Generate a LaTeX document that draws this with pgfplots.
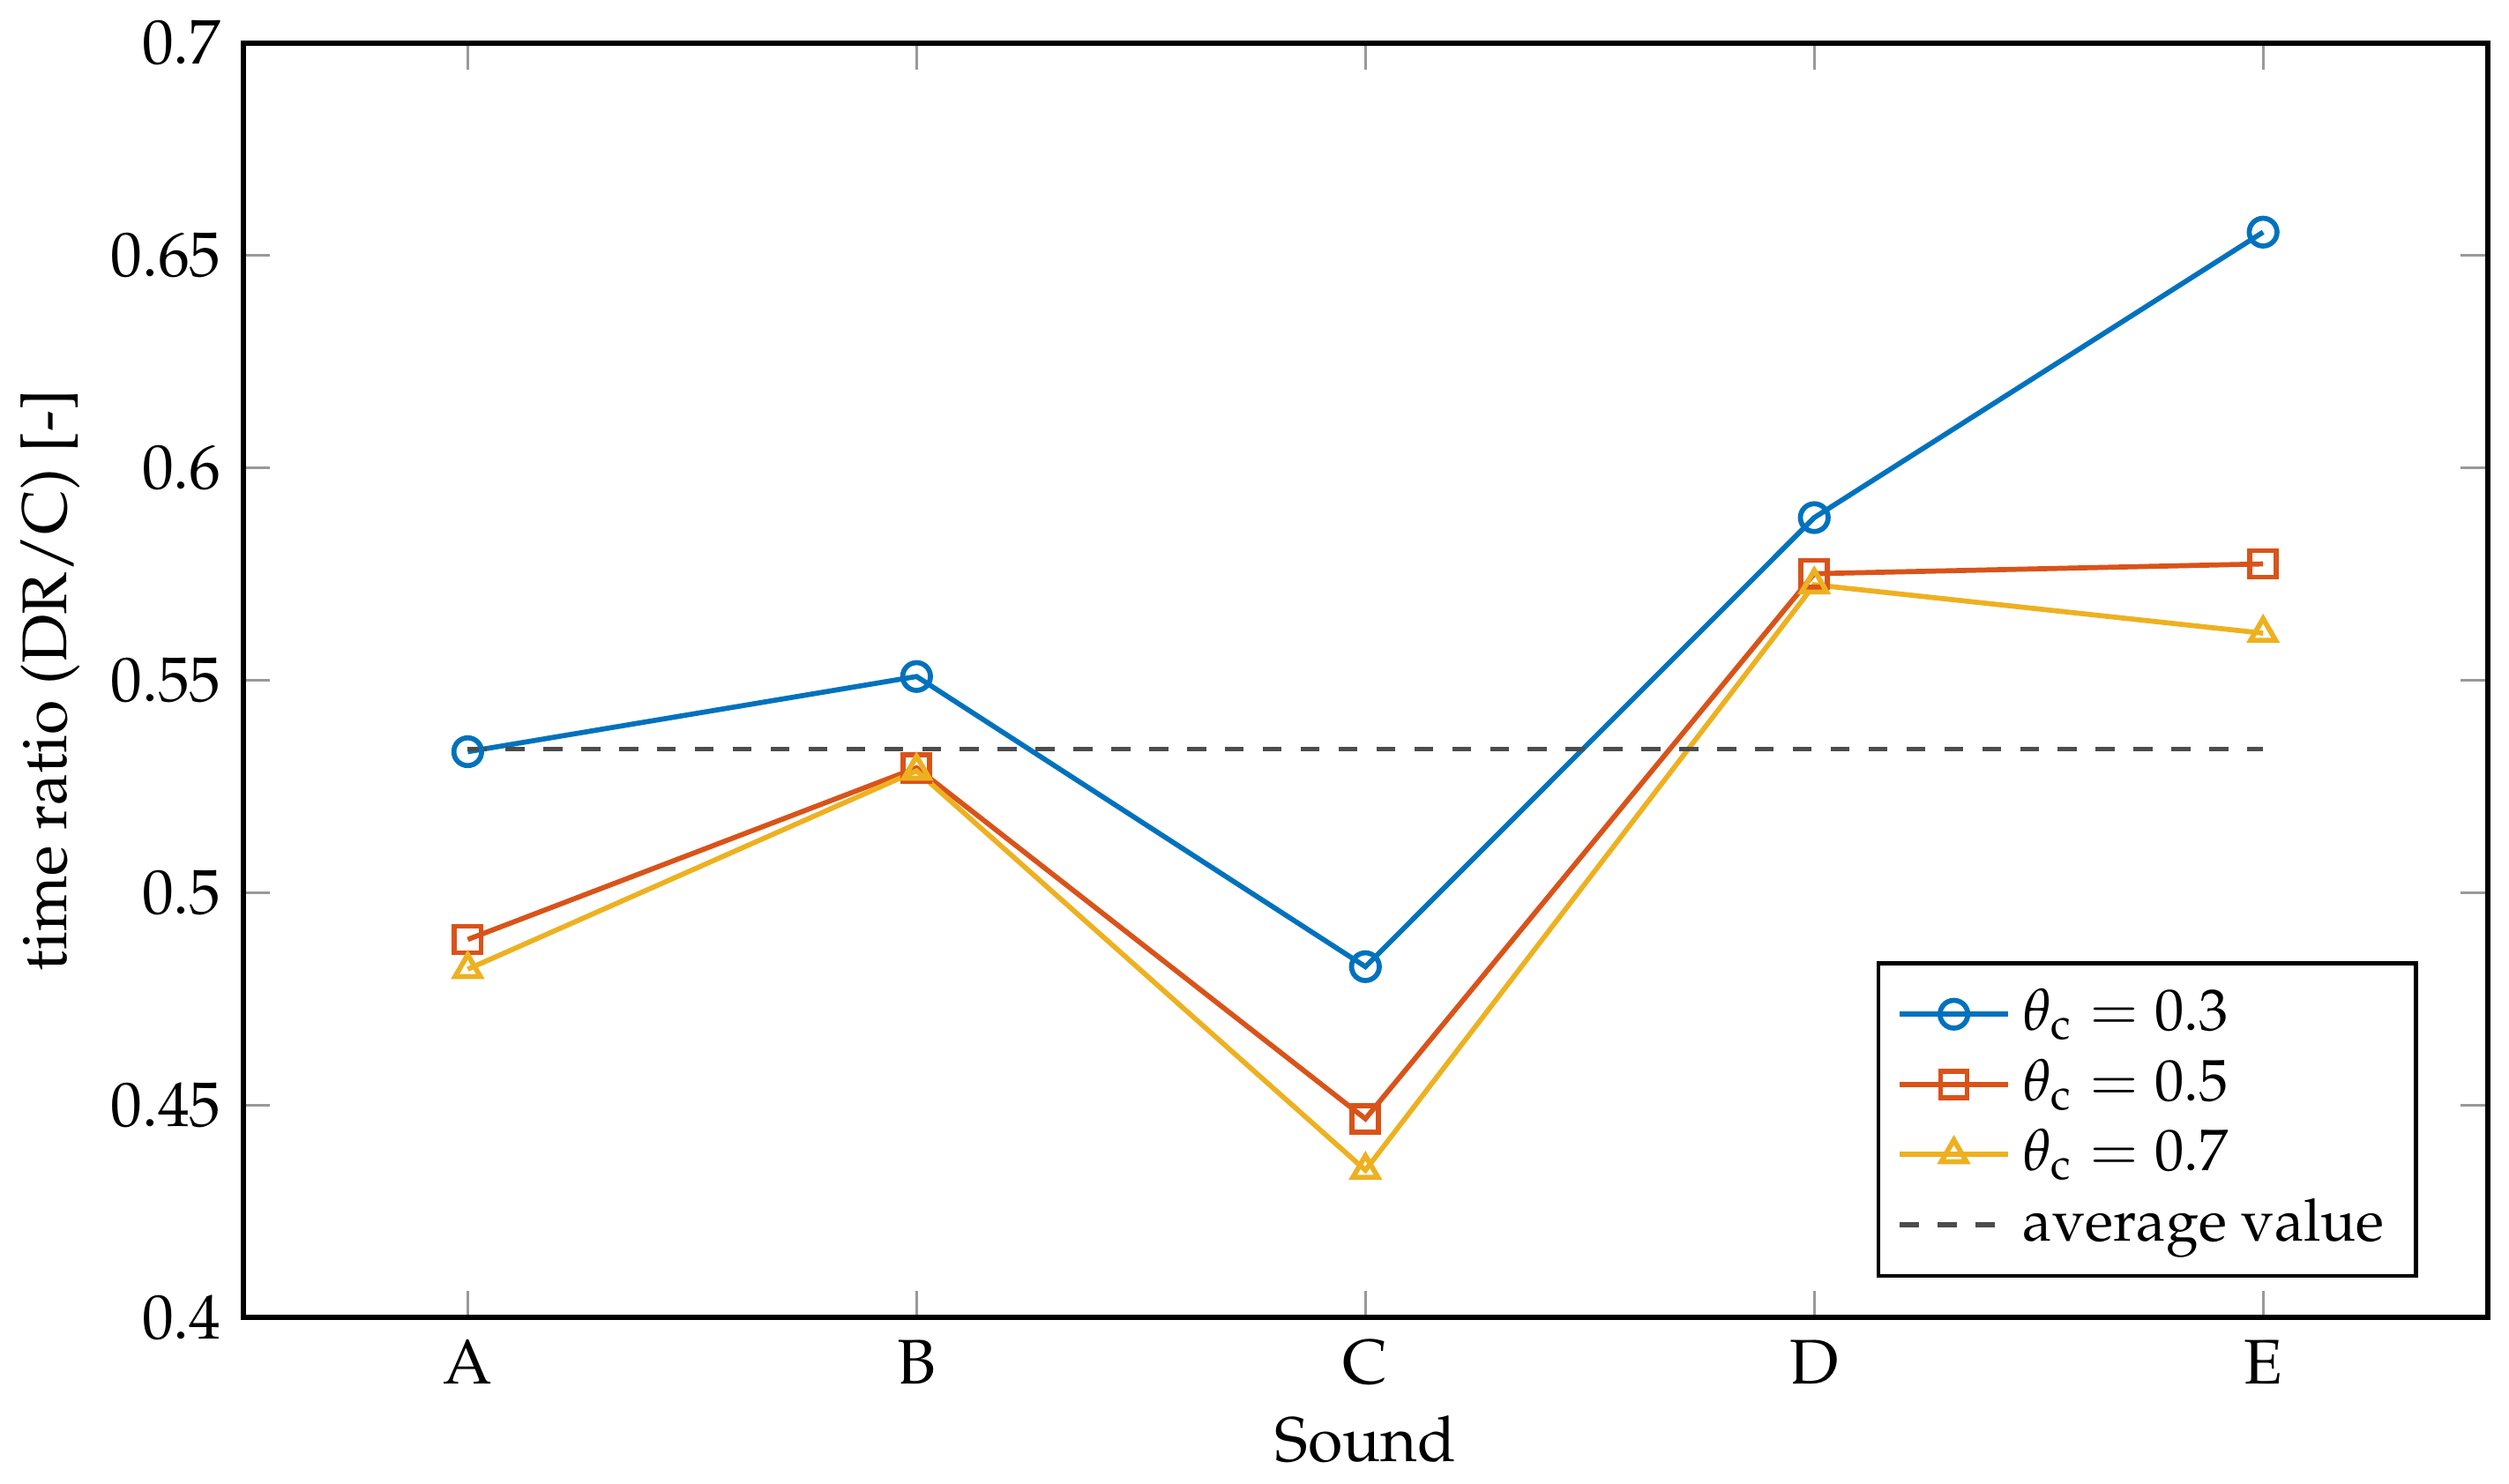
\documentclass[border={0pt 0pt 3pt 0pt}]{standalone}
\usepackage[T1]{fontenc}
\usepackage{mathpazo}
\usepackage{pgfplots}
\pgfplotsset{compat=1.18}

\definecolor{mblue}{rgb}{0,0.447,0.741}
\definecolor{mred}{rgb}{0.85,0.325,0.098}
\definecolor{myellow}{rgb}{0.929,0.694,0.125}
\definecolor{mgray}{rgb}{0.3,0.3,0.3}

\begin{document}
\begin{tikzpicture}
\begin{axis}[
    scale only axis,
    width=12.5cm,
    height=7.1cm,
    xmin=0.5, xmax=5.5,
    ymin=0.4, ymax=0.7,
    xtick={1,2,3,4,5},
    xticklabels={A,B,C,D,E},
    ytick={0.4,0.45,0.5,0.55,0.6,0.65,0.7},
    xlabel={Sound},
    ylabel={time ratio (DR/C) [-]},
    xlabel style={yshift=2pt},
    ylabel style={yshift=-2pt},
    axis line style={black, line width=0.8pt},
    major tick style={gray!80, line width=0.4pt},
    legend style={at={(0.969,0.031)}, anchor=south east, draw=black, line width=0.6pt,
        font=\fontsize{9.3pt}{10pt}\selectfont, row sep=-1pt,
        nodes={inner xsep=2pt}},
    legend cell align=left,
    every axis plot/.append style={line width=0.8pt},
]
\addplot[mblue, mark=o, mark size=2.2pt] coordinates {
    (1,0.5332)(2,0.5509)(3,0.4826)(4,0.5883)(5,0.6555) };
\addlegendentry{$\theta_\mathrm{c} = 0.3$}
\addplot[mred, mark=square, mark size=2.1pt] coordinates {
    (1,0.4890)(2,0.5294)(3,0.4468)(4,0.5751)(5,0.5774) };
\addlegendentry{$\theta_\mathrm{c} = 0.5$}
\addplot[myellow, mark=triangle, mark size=2.3pt] coordinates {
    (1,0.4820)(2,0.5287)(3,0.4347)(4,0.5725)(5,0.5611) };
\addlegendentry{$\theta_\mathrm{c} = 0.7$}
\addplot[mgray, dashed, line width=0.8pt] coordinates {
    (1,0.5338)(5,0.5338) };
\addlegendentry{average value}
\end{axis}
\end{tikzpicture}
\end{document}
